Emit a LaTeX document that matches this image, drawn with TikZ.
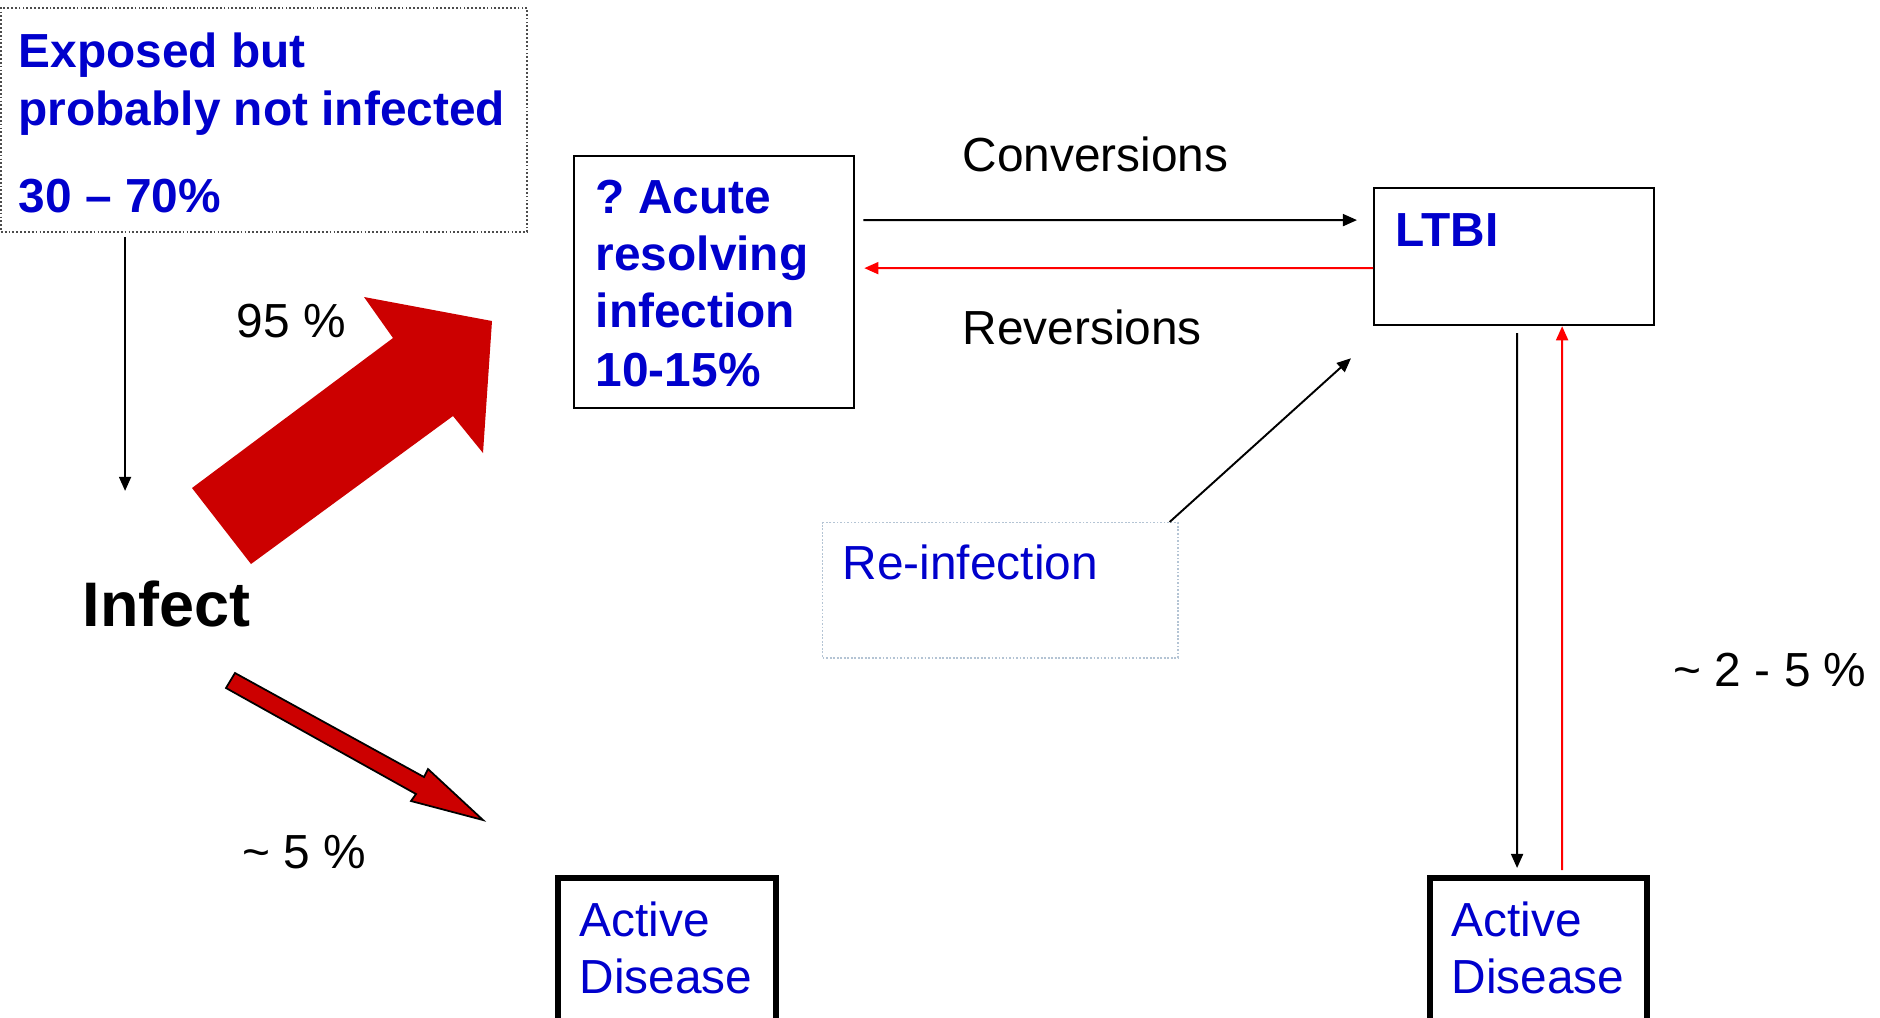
\documentclass[tikz,border=0pt]{standalone}
\usepackage{fontspec}
\setmainfont{Liberation Sans}
\usetikzlibrary{arrows.meta}
\definecolor{txtblue}{HTML}{0000CC}
\definecolor{arrred}{HTML}{CC0000}
\definecolor{linered}{HTML}{FF0000}
\definecolor{faintbox}{HTML}{B4C4D4}
\tikzset{
  bluebold/.style={text=txtblue, font=\fontsize{13.6}{16.4}\selectfont\bfseries, inner sep=0pt, anchor=base west},
  bluereg/.style={text=txtblue, font=\fontsize{13.6}{16.4}\selectfont, inner sep=0pt, anchor=base west},
  blacktxt/.style={font=\fontsize{13.6}{16.4}\selectfont, inner sep=0pt, anchor=base west},
  box/.style={draw, line width=0.6pt, inner sep=0pt, anchor=north west},
  thickbox/.style={draw, line width=1.7pt, inner sep=0pt, anchor=north west},
  flow/.style={-{Triangle[length=4pt,width=3.4pt]}, line width=0.55pt},
}
\begin{document}
\begin{tikzpicture}[x=0.01cm, y=-0.01cm]
  \useasboundingbox (0,0) rectangle (1880,1017);
  \clip (0,0) rectangle (1880,1017);
  % 方框
  \node[box, draw=black!70, line width=0.5pt, dash pattern=on 0.5pt off 0.6pt,
        minimum width=5.26cm, minimum height=2.24cm] (exposed) at (0,7) {};
  \node[box, minimum width=2.8cm, minimum height=2.52cm] (acute) at (573,155) {};
  \node[box, minimum width=2.8cm, minimum height=1.37cm] (ltbi) at (1373,187) {};
  \node[box, draw=faintbox, line width=0.4pt, dash pattern=on 0.5pt off 0.5pt,
        minimum width=3.55cm, minimum height=1.35cm] (reinf) at (822,522) {};
  \node[thickbox, minimum width=2.18cm, minimum height=1.6cm] (actL) at (555,875) {};
  \node[thickbox, minimum width=2.17cm, minimum height=1.6cm] (actR) at (1427,875) {};
  % 文字
  \foreach \y/\t [count=\i] in {67/{Exposed but}, 125/{probably not infected}, 212/{30 – 70\%}}
    \node[bluebold] (exptxt\i) at (18,\y) {\t};
  \foreach \y/\t [count=\i] in {213/{?\ Acute}, 270/{resolving}, 327/{infection}, 386/{10-15\%}}
    \node[bluebold] (acutetxt\i) at (595,\y) {\t};
  \node[bluebold] (ltbitxt) at (1395,246) {LTBI};
  \node[bluereg] (reinftxt) at (842,579) {Re-infection};
  \foreach \x/\n in {579/L, 1451/R} {
    \node[bluereg] (act\n a) at (\x,936) {Active};
    \node[bluereg] (act\n b) at (\x,993) {Disease};
  }
  \node[blacktxt, font=\fontsize{17.9}{21}\selectfont\bfseries] (infect) at (82,626) {Infect};
  \node[blacktxt] (p95) at (236,337) {95 \%};
  \node[blacktxt] (p5) at (242,868) {\textasciitilde{} 5 \%};
  \node[blacktxt] (conv) at (962,171) {Conversions};
  \node[blacktxt] (rev) at (962,344) {Reversions};
  \node[blacktxt] (p25) at (1673,686) {\textasciitilde{} 2 - 5 \%};
  % 细箭头
  \draw[flow] ([xshift=1.25cm, yshift=-0.04cm]exposed.south west) -- ++(0,254);
  \draw[flow] ([xshift=0.08cm, yshift=0.62cm]acute.east) -- ([xshift=-0.16cm, yshift=0.365cm]ltbi.west);
  \draw[flow, linered] ([yshift=-0.115cm]ltbi.west) -- ([xshift=0.09cm, yshift=0.14cm]acute.east);
  \draw[flow] ([xshift=-0.09cm]reinf.north east) -- ([xshift=-0.22cm, yshift=-0.32cm]ltbi.south west);
  \draw[flow] ([xshift=1.44cm, yshift=-0.07cm]ltbi.south west) -- ([xshift=0.90cm, yshift=0.07cm]actR.north west);
  \draw[flow, linered] ([xshift=1.35cm, yshift=0.05cm]actR.north west) -- ([xshift=1.89cm]ltbi.south west);
  % 红色大箭头
  \fill[arrred] (192,488) -- (393,338) -- (364,297) -- (492,321) -- (483,453) -- (453,416) -- (251,564) -- cycle;
  \filldraw[fill=arrred, draw=black, line width=0.5pt]
    (235,673) -- (424,777) -- (428,769) -- (483,820) -- (411,801) -- (416,794) -- (226,688) -- cycle;
\end{tikzpicture}
\end{document}
